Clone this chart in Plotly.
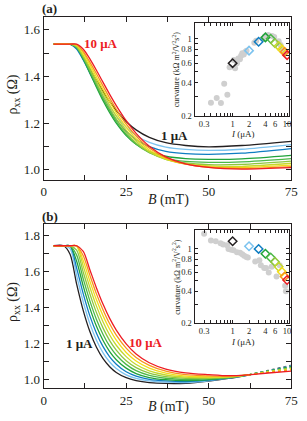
import math
import plotly.graph_objects as go

# ---------------- data ----------------
currents = [1, 2, 3, 4, 5, 6, 7, 8, 9, 10]
colors = ['#231f20', '#7cc3ef', '#0f7dc2', '#1fa33a', '#4cb848',
          '#8dc63f', '#c4d82e', '#f2dc1b', '#f7941d', '#ed1c24']

# panel (a): rho_xx vs B
B_a = [3, 8, 10, 12, 14, 16, 18, 20, 22, 25, 28, 32, 37, 43, 50, 60, 75]
rho_a_1 = [1.538, 1.538, 1.520, 1.480, 1.432, 1.383, 1.336, 1.292, 1.254, 1.207, 1.171, 1.139, 1.116, 1.104, 1.098, 1.104, 1.122]
rho_a_2 = [1.538, 1.538, 1.519, 1.474, 1.422, 1.368, 1.317, 1.271, 1.231, 1.182, 1.147, 1.117, 1.097, 1.087, 1.083, 1.088, 1.108]
rho_a_3 = [1.538, 1.538, 1.517, 1.470, 1.414, 1.358, 1.304, 1.256, 1.215, 1.165, 1.129, 1.099, 1.079, 1.069, 1.066, 1.071, 1.091]
rho_a_4 = [1.538, 1.538, 1.523, 1.475, 1.415, 1.354, 1.296, 1.245, 1.200, 1.147, 1.110, 1.078, 1.058, 1.048, 1.045, 1.047, 1.062]
rho_a_5 = [1.538, 1.538, 1.524, 1.478, 1.421, 1.361, 1.304, 1.252, 1.206, 1.151, 1.109, 1.073, 1.049, 1.036, 1.032, 1.034, 1.048]
rho_a_6 = [1.538, 1.538, 1.526, 1.483, 1.429, 1.371, 1.315, 1.263, 1.217, 1.159, 1.115, 1.074, 1.045, 1.029, 1.022, 1.023, 1.037]
rho_a_7 = [1.538, 1.538, 1.530, 1.490, 1.439, 1.383, 1.328, 1.277, 1.230, 1.170, 1.123, 1.078, 1.045, 1.025, 1.017, 1.015, 1.028]
rho_a_8 = [1.538, 1.538, 1.534, 1.499, 1.450, 1.397, 1.343, 1.292, 1.244, 1.183, 1.133, 1.085, 1.048, 1.025, 1.014, 1.010, 1.020]
rho_a_9 = [1.538, 1.538, 1.536, 1.506, 1.461, 1.411, 1.358, 1.307, 1.259, 1.196, 1.145, 1.093, 1.051, 1.024, 1.011, 1.006, 1.014]
rho_a_10 = [1.538, 1.538, 1.538, 1.516, 1.475, 1.426, 1.374, 1.323, 1.275, 1.210, 1.156, 1.101, 1.055, 1.025, 1.010, 1.003, 1.009]
rho_a = [rho_a_1, rho_a_2, rho_a_3, rho_a_4, rho_a_5, rho_a_6, rho_a_7, rho_a_8, rho_a_9, rho_a_10]

# panel (b): rho_xx vs B
B_b = [3, 6, 8, 10, 12, 14, 16, 18, 20, 22, 25, 28, 32, 37, 43, 50, 56, 62, 68, 75]
rho_b_1 = [1.741, 1.741, 1.694, 1.528, 1.381, 1.265, 1.178, 1.115, 1.070, 1.038, 1.009, 0.993, 0.982, 0.977, 0.978, 0.990, 1.005, 1.024, 1.049, 1.078]
rho_b_2 = [1.741, 1.741, 1.726, 1.575, 1.429, 1.309, 1.217, 1.147, 1.096, 1.060, 1.025, 1.005, 0.991, 0.984, 0.982, 0.992, 1.007, 1.024, 1.048, 1.075]
rho_b_3 = [1.741, 1.741, 1.741, 1.617, 1.474, 1.352, 1.256, 1.181, 1.125, 1.084, 1.042, 1.018, 1.000, 0.991, 0.987, 0.995, 1.008, 1.024, 1.047, 1.072]
rho_b_4 = [1.741, 1.741, 1.741, 1.655, 1.517, 1.395, 1.294, 1.215, 1.154, 1.109, 1.062, 1.032, 1.010, 0.998, 0.993, 0.998, 1.009, 1.025, 1.046, 1.069]
rho_b_5 = [1.741, 1.741, 1.741, 1.689, 1.557, 1.435, 1.332, 1.249, 1.184, 1.135, 1.083, 1.048, 1.022, 1.006, 0.999, 1.002, 1.010, 1.025, 1.045, 1.066]
rho_b_6 = [1.741, 1.741, 1.741, 1.717, 1.594, 1.474, 1.370, 1.284, 1.215, 1.162, 1.103, 1.065, 1.034, 1.015, 1.006, 1.006, 1.011, 1.025, 1.044, 1.063]
rho_b_7 = [1.741, 1.741, 1.741, 1.739, 1.628, 1.511, 1.406, 1.318, 1.246, 1.189, 1.126, 1.082, 1.047, 1.024, 1.012, 1.010, 1.013, 1.025, 1.042, 1.060]
rho_b_8 = [1.741, 1.741, 1.741, 1.741, 1.658, 1.545, 1.441, 1.352, 1.278, 1.217, 1.149, 1.102, 1.062, 1.034, 1.018, 1.014, 1.015, 1.025, 1.040, 1.056]
rho_b_9 = [1.741, 1.741, 1.741, 1.741, 1.686, 1.578, 1.474, 1.385, 1.308, 1.245, 1.173, 1.121, 1.077, 1.045, 1.026, 1.019, 1.017, 1.025, 1.038, 1.052]
rho_b_10 = [1.741, 1.741, 1.741, 1.741, 1.710, 1.608, 1.507, 1.416, 1.338, 1.273, 1.197, 1.141, 1.092, 1.057, 1.036, 1.026, 1.020, 1.025, 1.035, 1.046]
rho_b = [rho_b_1, rho_b_2, rho_b_3, rho_b_4, rho_b_5, rho_b_6, rho_b_7, rho_b_8, rho_b_9, rho_b_10]
B_dotted_from = 62

# inset (a): curvature vs I
gray_a_I = [0.40, 0.51, 0.61, 0.70, 0.80, 0.88, 1.05, 1.11, 1.20, 1.27, 1.36, 1.43, 1.50, 1.60, 1.70, 1.80, 2.5, 2.7, 3.6, 3.9, 4.5, 5.3, 5.8, 7.0, 7.6, 8.2, 9.0]
gray_a_c = [0.262, 0.29, 0.26, 0.39, 0.31, 0.55, 0.64, 0.54, 0.60, 0.66, 0.65, 0.70, 0.74, 0.72, 0.76, 0.78, 0.92, 0.96, 1.00, 1.05, 1.08, 1.06, 1.04, 0.95, 0.88, 0.80, 0.75]
diam_a_c = [0.60, 0.78, 0.94, 1.03, 1.00, 0.91, 0.86, 0.80, 0.76, 0.71]

# inset (b): curvature vs I
gray_b_I = [0.30, 0.40, 0.49, 0.60, 0.67, 0.79, 0.84, 0.94, 1.04, 1.20, 1.37, 1.50, 1.63, 1.79, 1.90, 2.6, 3.1, 3.3, 3.8, 4.1, 4.6, 5.2, 6.4, 7.3, 9.2, 9.5]
gray_b_c = [1.39, 1.20, 1.18, 1.13, 1.10, 1.08, 1.00, 0.98, 0.97, 0.93, 0.92, 0.89, 0.86, 0.84, 0.83, 0.76, 0.78, 0.70, 0.66, 0.66, 0.60, 0.68, 0.55, 0.70, 0.45, 0.40]
diam_b_c = [1.18, 1.06, 1.00, 0.90, 0.83, 0.755, 0.68, 0.61, 0.55, 0.51]

# ---------------- figure ----------------
SERIF = 'Liberation Serif, Times New Roman, serif'
fig = go.Figure()

for k in range(10):
    fig.add_trace(go.Scatter(x=B_a, y=rho_a[k], mode='lines', xaxis='x', yaxis='y',
                             line=dict(color=colors[k], width=1.3, shape='spline', smoothing=0.8),
                             showlegend=False, hoverinfo='skip'))
i0 = B_b.index(B_dotted_from)
for k in range(10):
    fig.add_trace(go.Scatter(x=B_b[:i0 + 1], y=rho_b[k][:i0 + 1], mode='lines', xaxis='x3', yaxis='y3',
                             line=dict(color=colors[k], width=1.3, shape='spline', smoothing=0.8),
                             showlegend=False, hoverinfo='skip'))
    fig.add_trace(go.Scatter(x=B_b[i0:], y=rho_b[k][i0:], mode='lines', xaxis='x3', yaxis='y3',
                             line=dict(color=colors[k], width=1.3, dash='solid' if k == 9 else 'dot',
                                       shape='spline', smoothing=0.8),
                             showlegend=False, hoverinfo='skip'))

for gx, gy, dy, xa, ya in [(gray_a_I, gray_a_c, diam_a_c, 'x2', 'y2'),
                           (gray_b_I, gray_b_c, diam_b_c, 'x4', 'y4')]:
    fig.add_trace(go.Scatter(x=gx, y=gy, mode='markers', xaxis=xa, yaxis=ya,
                             marker=dict(color='#cfcfcf', size=6), showlegend=False, hoverinfo='skip'))
    fig.add_trace(go.Scatter(x=currents, y=dy, mode='markers', xaxis=xa, yaxis=ya,
                             marker=dict(symbol='diamond-open', size=6.5, color=colors,
                                         line=dict(color=colors, width=1.5)),
                             showlegend=False, hoverinfo='skip'))

W, H = 307, 421
def px_x(a, b):
    return [a / W, b / W]
def px_y(top, bottom):
    return [1 - bottom / H, 1 - top / H]

main_x_ticks = dict(tickvals=[0, 12.5, 25, 37.5, 50, 62.5, 75], ticktext=['0', '', '25', '', '50', '', '75'])
axis_common = dict(showline=True, linecolor='#231f20', linewidth=1, mirror='allticks', ticks='inside',
                   ticklen=5, tickwidth=1, tickcolor='#231f20', showgrid=False, zeroline=False,
                   tickfont=dict(family=SERIF, size=13, color='#231f20'))
inset_common = dict(showline=True, linecolor='#231f20', linewidth=1, mirror='allticks', ticks='inside',
                    ticklen=3, tickwidth=1, tickcolor='#231f20', showgrid=False, zeroline=False,
                    type='log', tickfont=dict(family=SERIF, size=8.5, color='#231f20'))

ins_x_vals = [0.2, 0.3, 0.4, 0.5, 0.6, 0.7, 0.8, 0.9, 1, 2, 3, 4, 5, 6, 7, 8, 9, 10]
ins_x_text = ['', '0.3', '', '', '', '', '', '', '1', '2', '', '4', '', '6', '', '', '', '10']
ins_y_vals = [0.2, 0.3, 0.4, 0.5, 0.6, 0.7, 0.8, 0.9, 1]
ins_y_text = ['0.2', '', '0.4', '', '0.6', '', '0.8', '', '1']

ya_vals = [1.0, 1.1, 1.2, 1.3, 1.4, 1.5, 1.6]
ya_text = ['1.0', '', '1.2', '', '1.4', '', '1.6']
yb_vals = [1.0, 1.1, 1.2, 1.3, 1.4, 1.5, 1.6, 1.7, 1.8]
yb_text = ['1.0', '', '1.2', '', '1.4', '', '1.6', '', '1.8']

fig.update_layout(
    width=W, height=H, margin=dict(l=0, r=0, t=0, b=0),
    paper_bgcolor='white', plot_bgcolor='white', showlegend=False,
    xaxis=dict(domain=px_x(42, 298), range=[0, 75], anchor='y', **main_x_ticks, **axis_common),
    yaxis=dict(domain=px_y(17, 182), range=[0.957, 1.655], anchor='x', tickvals=ya_vals, ticktext=ya_text, **axis_common),
    xaxis3=dict(domain=px_x(42, 298), range=[0, 75], anchor='y3', **main_x_ticks, **axis_common),
    yaxis3=dict(domain=px_y(227, 393), range=[0.95, 1.86], anchor='x3', tickvals=yb_vals, ticktext=yb_text, **axis_common),
    xaxis2=dict(domain=px_x(198, 296), range=[math.log10(0.2), math.log10(11)], anchor='y2',
                tickvals=ins_x_vals, ticktext=ins_x_text, **inset_common),
    yaxis2=dict(domain=px_y(23, 117), range=[math.log10(0.2), math.log10(1.4)], anchor='x2',
                tickvals=ins_y_vals, ticktext=ins_y_text, **inset_common),
    xaxis4=dict(domain=px_x(198, 296), range=[math.log10(0.2), math.log10(11)], anchor='y4',
                tickvals=ins_x_vals, ticktext=ins_x_text, **inset_common),
    yaxis4=dict(domain=px_y(233, 327), range=[math.log10(0.2), math.log10(1.5)], anchor='x4',
                tickvals=ins_y_vals, ticktext=ins_y_text, **inset_common),
)

def ann(text, x, y, size=13, color='#231f20', bold=False, angle=0, xanchor='center', yanchor='middle'):
    if bold:
        text = '<b>' + text + '</b>'
    fig.add_annotation(text=text, x=x / W, y=1 - y / H, xref='paper', yref='paper', showarrow=False,
                       font=dict(family=SERIF, size=size, color=color), textangle=angle,
                       xanchor=xanchor, yanchor=yanchor)

ann('(a)', 38, 9, size=13, bold=True, xanchor='left')
ann('(b)', 38, 219, size=13, bold=True, xanchor='left')
for yc in [96, 306]:
    ann('ρ<sub>xx</sub> (Ω)', 11, yc, size=14, angle=-90)
ann('<i>B</i> (mT)', 171, 202, size=14)
ann('<i>B</i> (mT)', 171, 412, size=14)
ann('10 μA', 101, 44, size=13, color='#ed1c24', bold=True)
ann('1 μA', 177, 137, size=13, bold=True)
ann('1 μA', 79, 348, size=13, bold=True)
ann('10 μA', 148, 347, size=13, color='#ed1c24', bold=True)
for yc, ic in [(70, 136), (280, 346)]:
    ann('curvature (kΩ m<sup>2</sup>/V<sup>2</sup>s<sup>2</sup>)', 179, yc, size=8, angle=-90)
    ann('<i>I</i> (μA)', 248, ic, size=9)

fig.write_html('out.html', config={'displayModeBar': False})

# remove the default page margin so the 307x421 figure fills the window exactly
with open('out.html', 'r', encoding='utf-8') as fh:
    page = fh.read()
page = page.replace('<head>', '<head><style>html,body{margin:0;padding:0;overflow:hidden;}</style>', 1)
with open('out.html', 'w', encoding='utf-8') as fh:
    fh.write(page)
